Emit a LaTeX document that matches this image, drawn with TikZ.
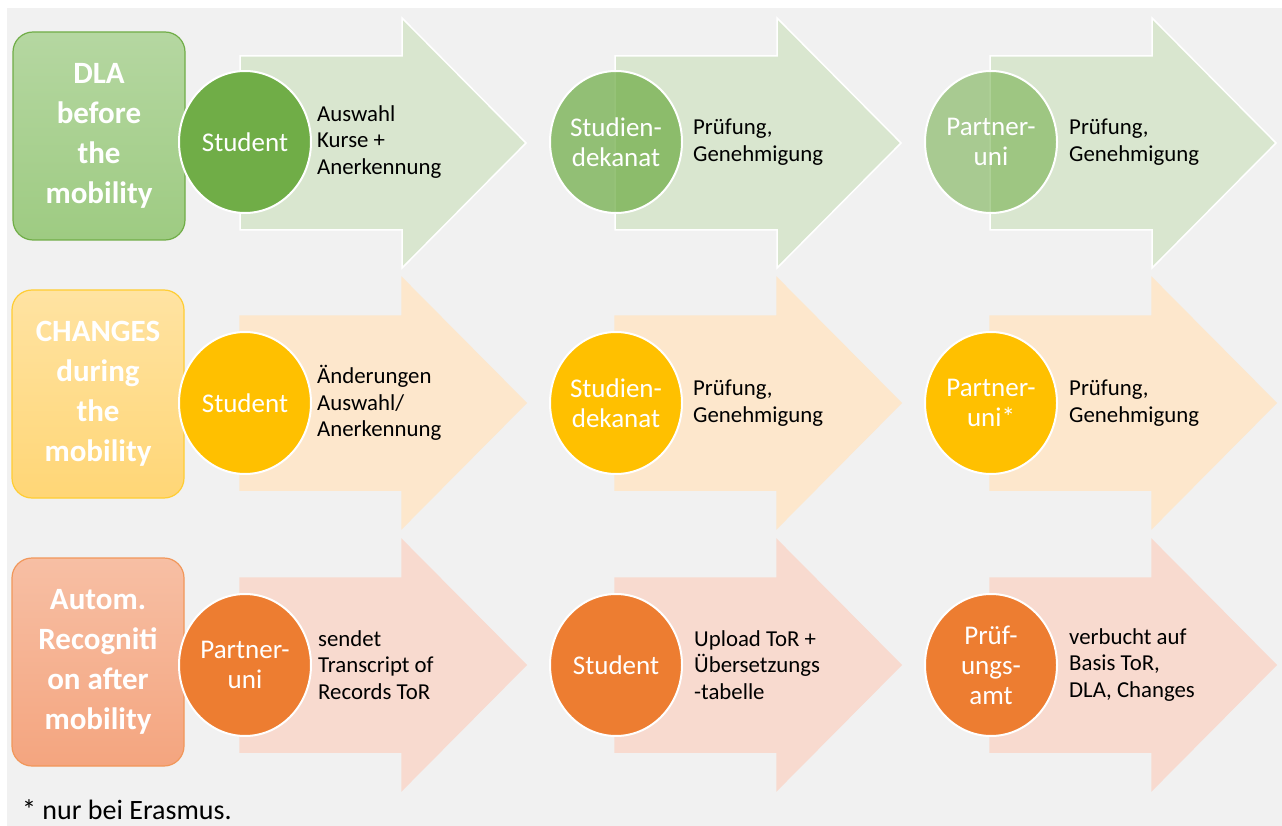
\documentclass[tikz,border=0pt]{standalone}
\usepackage{fontspec}
\setmainfont{Carlito}
\usetikzlibrary{shapes.geometric}

\definecolor{paper}{HTML}{F1F1F1}
\definecolor{greendark}{HTML}{70AD47}
\definecolor{greenbox1}{HTML}{B5D7A1}
\definecolor{greenbox2}{HTML}{9ECB82}
\definecolor{greenarrow}{HTML}{D9E6CF}
\definecolor{yellowdark}{HTML}{FFC000}
\definecolor{yellowbox1}{HTML}{FFE3A2}
\definecolor{yellowbox2}{HTML}{FFD676}
\definecolor{yellowarrow}{HTML}{FDE7CC}
\definecolor{orangedark}{HTML}{ED7D31}
\definecolor{orangebox1}{HTML}{F7BFA4}
\definecolor{orangebox2}{HTML}{F4A57F}
\definecolor{orangearrow}{HTML}{F8DACF}

\begin{document}
\begin{tikzpicture}[x=1pt, y=-1pt]
    \tikzstyle{phase} = [rectangle, rounded corners=20pt, line width=1.2pt, minimum width=172pt, minimum height=208pt, align=center, text=white, font=\bfseries\fontsize{31}{40}\selectfont]
    \tikzstyle{actor} = [ellipse, draw=white, line width=2pt, minimum width=132pt, minimum height=142pt, inner sep=0pt, align=center, text=white, font=\fontsize{27}{30}\selectfont]
    \tikzstyle{task} = [anchor=west, inner sep=0pt, align=left, text=black, font=\fontsize{22.8}{26.5}\selectfont]
    \tikzstyle{chevron} = [line join=miter]
    \useasboundingbox (0, 0) rectangle (1282, 826);
    \fill[paper] (7, 8) rectangle (1282, 826);
    \foreach \y/\col/\edge in {143/greenarrow/white, 403/yellowarrow/yellowarrow, 665/orangearrow/orangearrow}
        \foreach \x in {240, 615, 990}
            \draw[chevron, fill=\col, draw=\edge, line width=1.5pt] (\x, \y-87) -- ++(162, 0) -- ++(0, -38) -- (\x+286, \y) -- (\x+162, \y+125) -- ++(0, -38) -- (\x, \y+87) -- cycle;
    \node[phase, draw=greendark, top color=greenbox1, bottom color=greenbox2] (dla) at (99, 136) {DLA\\before\\the\\mobility};
    \node[phase, draw=yellowdark!80, top color=yellowbox1, bottom color=yellowbox2] (changes) at (98, 394) {CHANGES\\during\\the\\mobility};
    \node[phase, draw=orangedark!80, top color=orangebox1, bottom color=orangebox2] (recog) at (98, 662) {Autom.\\Recogniti\\on after\\mobility};
    \node[actor, fill=greendark] (student1) at (245, 142) {Student};
    \node[actor, fill=greendark, fill opacity=0.73, text opacity=1, draw opacity=1] (dekanat1) at (616, 142) {Studien-\\dekanat};
    \node[actor, fill=greendark, fill opacity=0.56, text opacity=1, draw opacity=1] (partner1) at (991, 142) {Partner-\\uni};
    \node[actor, fill=yellowdark] (student2) at (245, 403) {Student};
    \node[actor, fill=yellowdark] (dekanat2) at (616, 403) {Studien-\\dekanat};
    \node[actor, fill=yellowdark] (partner2) at (991, 403) {Partner-\\uni*};
    \node[actor, fill=orangedark] (partner3) at (245, 665) {Partner-\\uni};
    \node[actor, fill=orangedark] (student3) at (616, 665) {Student};
    \node[actor, fill=orangedark] (amt3) at (991, 665) {Prüf-\\ungs-\\amt};
    \node[task] (auswahl) at (317, 142) {Auswahl\\Kurse +\\Anerkennung};
    \node[task] (pruef1) at (693, 142) {Prüfung,\\Genehmigung};
    \node[task] (genehm1) at (1069, 142) {Prüfung,\\Genehmigung};
    \node[task] (aenderung) at (317, 403) {Änderungen\\Auswahl/\\Anerkennung};
    \node[task] (pruef2) at (693, 403) {Prüfung,\\Genehmigung};
    \node[task] (genehm2) at (1069, 403) {Prüfung,\\Genehmigung};
    \node[task] (sendet) at (318, 665) {sendet\\Transcript of\\Records ToR};
    \node[task] (upload) at (694, 665) {Upload ToR +\\Übersetzungs\\-tabelle};
    \node[task] (verbucht) at (1069, 665) {verbucht auf\\Basis ToR,\\DLA, Changes};
    \node[anchor=base west, inner sep=0pt, font=\fontsize{28}{32}\selectfont] (note) at (22, 819) {* nur bei Erasmus.};
\end{tikzpicture}
\end{document}
